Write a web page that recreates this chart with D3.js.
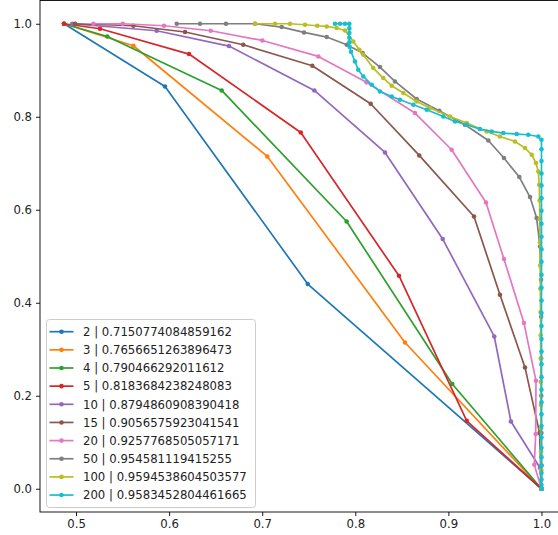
<!DOCTYPE html>
<html><head><meta charset="utf-8">
<script src="https://cdn.jsdelivr.net/npm/d3@7"></script>
<style>html,body{margin:0;padding:0;background:#fff;overflow:hidden}</style>
</head><body><svg id="chart" width="558" height="535"></svg>
<script>
const seriesNames = ["2","3","4","5","10","15","20","50","100","200"];
const seriesScores = ["0.7150774084859162","0.7656651263896473","0.790466292011612","0.8183684238248083","0.8794860908390418","0.9056575923041541","0.9257768505057171","0.954581119415255","0.9594538604503577","0.9583452804461665"];
const colors = ["#1f77b4","#ff7f0e","#2ca02c","#d62728","#9467bd","#8c564b","#e377c2","#7f7f7f","#bcbd22","#17becf"];

const x2 = [0.4871,0.5956,0.7489,1.0];
const y2 = [1.0,0.8652,0.4402,0.0];
const x3 = [0.4871,0.5616,0.7055,0.8534,1.0];
const y3 = [1.0,0.9527,0.7146,0.3146,0.0];
const x4 = [0.4871,0.5336,0.6565,0.7907,0.9042,1.0];
const y4 = [1.0,0.9727,0.8566,0.5748,0.2252,0.0];
const x5 = [0.4871,0.5258,0.6214,0.7414,0.8469,0.9197,1.0];
const y5 = [1.0,0.9892,0.9348,0.7662,0.4581,0.1462,0.0];
const x10 = [0.4960,0.5867,0.6643,0.7560,0.8319,0.8939,0.9493,0.9672,0.9984,1.0];
const y10 = [1.0,0.9849,0.9520,0.8566,0.7232,0.5370,0.3275,0.1447,0.0452,0.0];
const x15 = [0.4990,0.5616,0.6171,0.6797,0.7538,0.8165,0.8687,0.9275,0.9554,0.9823,0.9980,1.0];
const y15 = [1.0,0.9957,0.9822,0.9548,0.9097,0.8280,0.7168,0.5856,0.4172,0.2609,0.1197,0.0];
const x20 = [0.5186,0.5502,0.5945,0.6447,0.7001,0.7603,0.8120,0.8641,0.9035,0.9404,0.9597,0.9812,0.9941,0.9938,0.9923,1.0];
const y20 = [1.0,1.0,0.9957,0.9849,0.9641,0.9297,0.8740,0.8080,0.7290,0.6157,0.4940,0.3563,0.2323,0.1176,0.0516,0.0];
const x50 = [0.6082,0.6332,0.6611,0.6923,0.7209,0.7449,0.7693,0.7908,0.8079,0.8265,0.8426,0.8659,0.8902,0.9178,0.9429,0.9597,0.9762,0.9877,0.9948,0.9984,0.9995,0.9996,0.9997,0.9998,0.9999,1.0,1.0];
const y50 = [1.0,1.0,1.0,1.0,0.9929,0.9813,0.9714,0.9548,0.9370,0.9069,0.8759,0.8381,0.8129,0.7828,0.7490,0.7112,0.6703,0.6273,0.5822,0.5211,0.4495,0.3700,0.2800,0.2000,0.1200,0.0500,0.0];
const x100 = [0.6923,0.7137,0.7299,0.7460,0.7592,0.7693,0.7800,0.7889,0.7979,0.8043,0.8086,0.8193,0.8301,0.8391,0.8516,0.8659,0.8802,0.9017,0.9197,0.9411,0.9554,0.9715,0.9823,0.9895,0.9941,0.9966,0.9976,0.9980,0.9982,0.9984,0.9986,0.9988,0.9990,0.9991,0.9992,0.9993,0.9994,0.9995,0.9996,0.9998,1.0];
const y100 = [1.0,1.0,1.0,0.9978,0.9957,0.9942,0.9908,0.9856,0.9619,0.9441,0.9333,0.9047,0.8832,0.8667,0.8510,0.8329,0.8187,0.8006,0.7865,0.7684,0.7576,0.7469,0.7327,0.7183,0.7004,0.6824,0.6538,0.6200,0.5800,0.5300,0.4800,0.4300,0.3800,0.3300,0.2800,0.2300,0.1800,0.1300,0.0800,0.0400,0.0];
const x200 = [0.7782,0.7836,0.7889,0.7936,0.7936,0.7936,0.7936,0.7936,0.7940,0.7954,0.7997,0.8032,0.8086,0.8176,0.8265,0.8391,0.8480,0.8623,0.8767,0.8945,0.9071,0.9197,0.9339,0.9465,0.9590,0.9734,0.9858,0.9966,1.0,1.0,1.0,1.0,1.0,1.0,1.0,1.0,1.0,1.0,1.0,1.0,1.0,1.0,1.0,1.0,1.0,1.0,1.0,1.0,1.0,1.0,1.0,1.0,1.0,1.0,1.0,1.0,1.0,1.0,1.0,1.0];
const y200 = [1.0,1.0,1.0,1.0,0.9900,0.9800,0.9700,0.9600,0.9500,0.9398,0.9189,0.9011,0.8867,0.8688,0.8544,0.8437,0.8366,0.8258,0.8151,0.8006,0.7899,0.7828,0.7735,0.7684,0.7649,0.7628,0.7613,0.7576,0.7505,0.7300,0.7050,0.6780,0.6520,0.6250,0.5980,0.5700,0.5420,0.5150,0.4880,0.4600,0.4320,0.4050,0.3780,0.3500,0.3220,0.2950,0.2680,0.2400,0.2130,0.1860,0.1600,0.1350,0.1100,0.0880,0.0680,0.0500,0.0340,0.0200,0.0080,0.0];

const xs = [x2,x3,x4,x5,x10,x15,x20,x50,x100,x200];
const ys = [y2,y3,y4,y5,y10,y15,y20,y50,y100,y200];
const xTicks = [0.5,0.6,0.7,0.8,0.9,1.0];
const yTicks = [0.0,0.2,0.4,0.6,0.8,1.0];

const svg = d3.select("#chart");
const FONT = "DejaVu Sans";
const FS = 11.7;
const x = d3.scaleLinear().domain([0.4613, 1.0257]).range([40, 565.4]);
const y = d3.scaleLinear().domain([-0.05, 1.05]).range([512, 0.5]);

// axes frame
svg.append("rect").attr("x", 40).attr("y", 0.5).attr("width", 525.4).attr("height", 511.5)
  .attr("fill", "none").attr("stroke", "#000").attr("stroke-width", 0.9);

const xAxis = svg.append("g").attr("transform", "translate(0,512)")
  .call(d3.axisBottom(x).tickValues(xTicks).tickFormat(d3.format(".1f")).tickSize(4).tickPadding(4));
const yAxis = svg.append("g").attr("transform", "translate(40,0)")
  .call(d3.axisLeft(y).tickValues(yTicks).tickFormat(d3.format(".1f")).tickSize(4).tickPadding(4));
[xAxis, yAxis].forEach(a => {
  a.select(".domain").remove();
  a.selectAll("line").attr("stroke", "#000").attr("stroke-width", 0.9);
  a.selectAll("text").attr("font-family", FONT).attr("font-size", FS).attr("fill", "#222");
});

const line = d3.line().x(d => x(d[0])).y(d => y(d[1]));
xs.forEach((xa, i) => {
  const pts = xa.map((v, j) => [v, ys[i][j]]);
  const g = svg.append("g");
  g.append("path").attr("d", line(pts)).attr("fill", "none")
    .attr("stroke", colors[i]).attr("stroke-width", 1.7).attr("stroke-linejoin", "round");
  g.selectAll("circle").data(pts).join("circle")
    .attr("cx", d => x(d[0])).attr("cy", d => y(d[1])).attr("r", 2.3).attr("fill", colors[i]);
});

// legend
const lg = svg.append("g");
lg.append("rect").attr("x", 46.5).attr("y", 319.5).attr("width", 209).attr("height", 188).attr("rx", 3)
  .attr("fill", "#fff").attr("fill-opacity", 0.8).attr("stroke", "#ccc").attr("stroke-width", 1);
seriesNames.forEach((n, i) => {
  const cy = 331.7 + i * 18.15;
  lg.append("line").attr("x1", 49.5).attr("x2", 73.5).attr("y1", cy).attr("y2", cy)
    .attr("stroke", colors[i]).attr("stroke-width", 1.7);
  lg.append("circle").attr("cx", 61.5).attr("cy", cy).attr("r", 2.3).attr("fill", colors[i]);
  lg.append("text").attr("x", 83).attr("y", cy).attr("dy", "0.36em")
    .attr("font-family", FONT).attr("font-size", FS).attr("fill", "#222")
    .text(n + " | " + seriesScores[i]);
});
</script></body></html>
